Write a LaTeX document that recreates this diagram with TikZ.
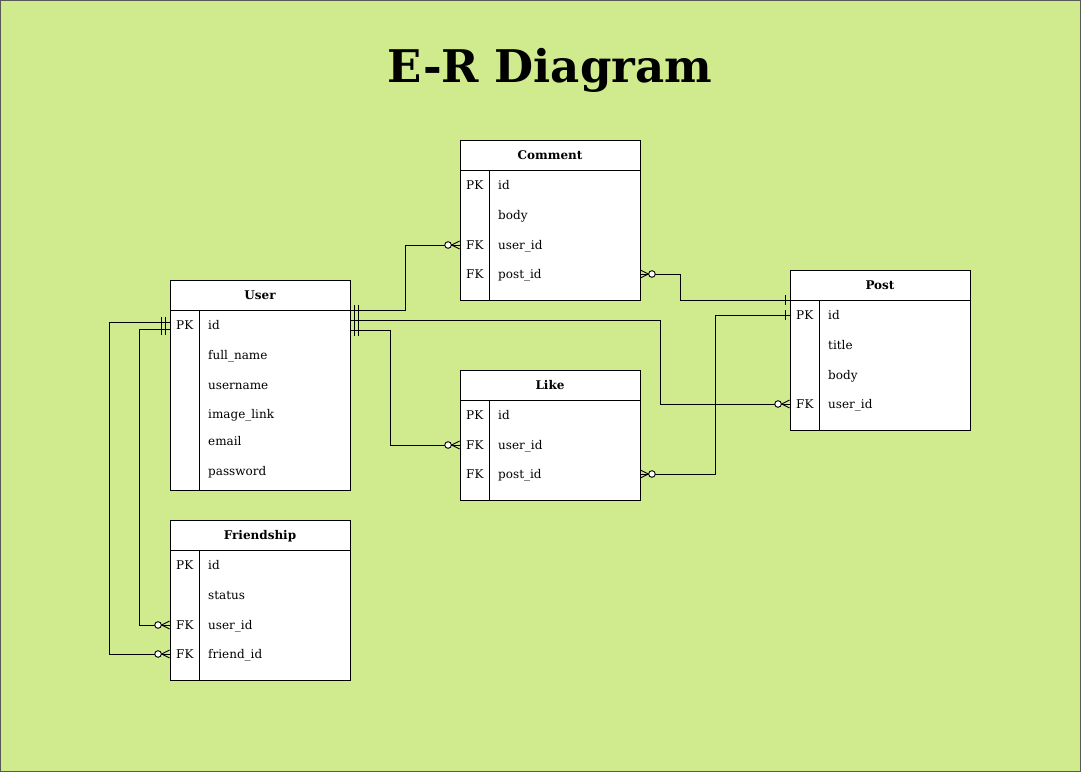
\documentclass[tikz,border=0pt]{standalone}
\usepackage{fontspec}
\setmainfont{DejaVu Serif}
\usepackage{tikz}
\usetikzlibrary{calc}
\definecolor{bggreen}{HTML}{D0EB8D}

\tikzset{
  tblhead/.style={draw, fill=white, line width=0.9pt, minimum width=180pt, minimum height=30pt, inner sep=0pt, text height=10pt, text depth=1pt, font=\fontsize{12}{14}\selectfont\bfseries},
  tblbody/.style={draw, fill=white, line width=0.9pt, minimum width=180pt, inner sep=0pt, anchor=north},
  keycol/.style={anchor=west, inner sep=0pt, yshift=-1.5pt, text height=1.6ex, text depth=0.3ex, font=\fontsize{12}{14}\selectfont},
  fieldcol/.style={keycol},
  link/.style={line width=0.9pt},
  zmany/.pic={\draw[line width=0.9pt] (0,-4) -- (-8,0) -- (0,4);
    \draw[line width=0.9pt, fill=white] (-11.5,0) circle[radius=3.3pt];},
  mone/.pic={\draw[line width=0.9pt] (-4,-5.5) -- (-4,5.5) (-8,-5.5) -- (-8,5.5);},
  oneonly/.pic={\draw[line width=0.9pt] (-4,-5) -- (-4,5);}
}

\begin{document}
\begin{tikzpicture}[x=1pt, y=-1pt]
    \useasboundingbox (0,0) rectangle (1081,772);
    \draw [fill=bggreen, draw=gray!70!black] (0.5,0.5) rectangle (1080.5,771.5);

    % Title
    \node [font=\fontsize{45}{54}\selectfont\bfseries] (title) at (550,70) {E-R Diagram};

    % Comment
    \node [tblhead] (comment) at (550,155) {Comment};
    \node [tblbody, minimum height=130pt] (commentbody) at (comment.south) {};
    \draw [line width=0.9pt] ([xshift=30pt]commentbody.north west) -- ([xshift=30pt]commentbody.south west);
    \node [keycol] (cidk) at (466,185) {PK};
    \node [fieldcol] (cid) at (498,185) {id};
    \node [fieldcol] (cbody) at (498,215) {body};
    \node [keycol] (cuidk) at (466,245) {FK};
    \node [fieldcol] (cuid) at (498,245) {user\_id};
    \node [keycol] (cpidk) at (466,274) {FK};
    \node [fieldcol] (cpid) at (498,274) {post\_id};

    % User
    \node [tblhead] (user) at (260,295) {User};
    \node [tblbody, minimum height=180pt] (userbody) at (user.south) {};
    \draw [line width=0.9pt] ([xshift=30pt]userbody.north west) -- ([xshift=30pt]userbody.south west);
    \node [keycol] (uidk) at (176,325) {PK};
    \node [fieldcol] (uid) at (208,325) {id};
    \node [fieldcol] (ufull) at (208,355) {full\_name};
    \node [fieldcol] (uname) at (208,385) {username};
    \node [fieldcol] (uimg) at (208,414) {image\_link};
    \node [fieldcol] (umail) at (208,441) {email};
    \node [fieldcol] (upass) at (208,471) {password};

    % Like
    \node [tblhead] (like) at (550,385) {Like};
    \node [tblbody, minimum height=100pt] (likebody) at (like.south) {};
    \draw [line width=0.9pt] ([xshift=30pt]likebody.north west) -- ([xshift=30pt]likebody.south west);
    \node [keycol] (lidk) at (466,415) {PK};
    \node [fieldcol] (lid) at (498,415) {id};
    \node [keycol] (luidk) at (466,445) {FK};
    \node [fieldcol] (luid) at (498,445) {user\_id};
    \node [keycol] (lpidk) at (466,474) {FK};
    \node [fieldcol] (lpid) at (498,474) {post\_id};

    % Post
    \node [tblhead] (post) at (880,285) {Post};
    \node [tblbody, minimum height=130pt] (postbody) at (post.south) {};
    \draw [line width=0.9pt] ([xshift=30pt]postbody.north west) -- ([xshift=30pt]postbody.south west);
    \node [keycol] (pidk) at (796,315) {PK};
    \node [fieldcol] (pid) at (828,315) {id};
    \node [fieldcol] (ptitle) at (828,345) {title};
    \node [fieldcol] (pbody) at (828,375) {body};
    \node [keycol] (puidk) at (796,404) {FK};
    \node [fieldcol] (puid) at (828,404) {user\_id};

    % Friendship
    \node [tblhead] (friend) at (260,535) {Friendship};
    \node [tblbody, minimum height=130pt] (friendbody) at (friend.south) {};
    \draw [line width=0.9pt] ([xshift=30pt]friendbody.north west) -- ([xshift=30pt]friendbody.south west);
    \node [keycol] (fidk) at (176,565) {PK};
    \node [fieldcol] (fid) at (208,565) {id};
    \node [fieldcol] (fstatus) at (208,595) {status};
    \node [keycol] (fuidk) at (176,625) {FK};
    \node [fieldcol] (fuid) at (208,625) {user\_id};
    \node [keycol] (ffidk) at (176,654) {FK};
    \node [fieldcol] (ffid) at (208,654) {friend\_id};

    % Relations
    \coordinate (u1) at (userbody.north east);
    \coordinate (u2) at ([yshift=-10pt]userbody.north east);
    \coordinate (u3) at ([yshift=-20pt]userbody.north east);
    \coordinate (u4) at ([yshift=-12pt]userbody.north west);
    \coordinate (u5) at ([yshift=-19pt]userbody.north west);
    \coordinate (cu) at (commentbody.west |- 0,245);
    \coordinate (cp) at (commentbody.east |- 0,274);
    \coordinate (lu) at (likebody.west |- 0,445);
    \coordinate (lp) at (likebody.east |- 0,474);
    \coordinate (pu) at (postbody.west |- 0,404);
    \coordinate (pi) at (postbody.west |- 0,315);
    \coordinate (fu) at (friendbody.west |- 0,625);
    \coordinate (ff) at (friendbody.west |- 0,654);

    \draw [link] (u1) -- ++(55,0) |- (cu);
    \draw [link] (u2) -- ++(310,0) |- (pu);
    \draw [link] (u3) -- ++(40,0) |- (lu);
    \draw [link] (cp) -- ++(40,0) |- (postbody.north west);
    \draw [link] (lp) -- ++(75,0) |- (pi);
    \draw [link] (u4) -- ++(-60,0) |- (ff);
    \draw [link] (u5) -- ++(-30,0) |- (fu);

    % Ends
    \pic [rotate=180] at (u1) {mone};
    \pic [rotate=180] at (u2) {mone};
    \pic [rotate=180] at (u3) {mone};
    \pic at (u4) {mone};
    \pic at (u5) {mone};
    \pic at (cu) {zmany};
    \pic at (pu) {zmany};
    \pic at (lu) {zmany};
    \pic [rotate=180] at (cp) {zmany};
    \pic [rotate=180] at (lp) {zmany};
    \pic at (ff) {zmany};
    \pic at (fu) {zmany};
    \pic at (postbody.north west) {oneonly};
    \pic at (pi) {oneonly};
\end{tikzpicture}
\end{document}
